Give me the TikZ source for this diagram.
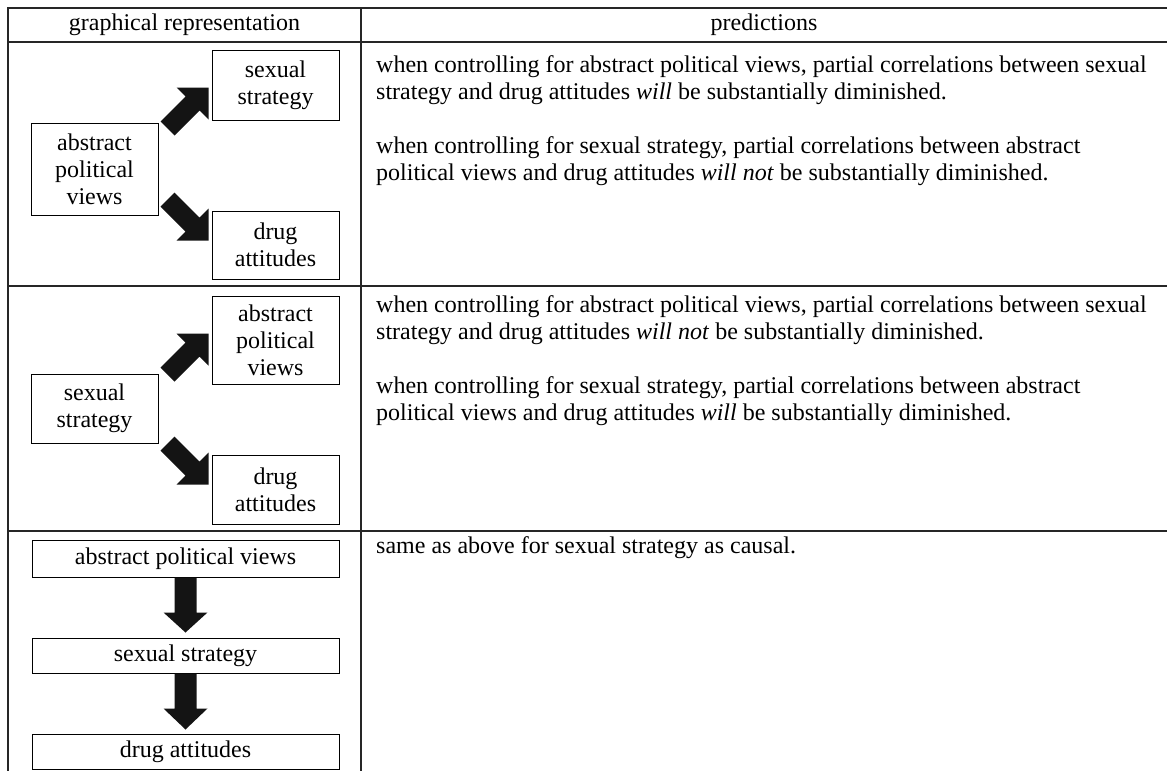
\documentclass[tikz,border=0pt]{standalone}
\usepackage{fontspec}
\setmainfont{Liberation Serif}
\usetikzlibrary{calc}
\tikzset{
  tline/.style={draw=black!85, line width=1.3pt},
  topline/.style={draw=black!85, line width=2.4pt},
  vbox/.style={draw=black, line width=1pt, align=center, inner sep=0pt,
    font=\fontsize{24}{27}\selectfont, minimum width=127pt},
  wbox/.style={vbox, minimum width=307pt},
  txt/.style={anchor=base west, inner sep=0pt, font=\fontsize{24}{27}\selectfont},
  hdr/.style={inner sep=0pt, font=\fontsize{24}{27}\selectfont},
  blk/.style={fill=black!92},
}
\begin{document}
\begin{tikzpicture}[x=1pt, y=-1pt]
\useasboundingbox (0,0) rectangle (1167,771);
% table lines
\draw[topline] (8,8) -- (1167,8);
\draw[tline] (8,42) -- (1167,42);
\draw[tline] (8,286) -- (1167,286);
\draw[tline] (8,531) -- (1167,531);
\draw[tline] (8,7) -- (8,771);
\draw[tline] (361,7) -- (361,771);
% headers
\node[hdr] (h1) at (184.5,25) {graphical representation};
\node[hdr] (h2) at (764,25) {predictions};

% row 1
\node[vbox, minimum height=70pt] (ss1) at (275.5,85) {sexual\\strategy};
\node[vbox, minimum height=92pt] (ap1) at (94.5,169) {abstract\\political\\views};
\node[vbox, minimum height=68pt] (da1) at (275.5,245) {drug\\attitudes};
\fill[blk, shift={($(ss1.north west)+(-3,38)$)}]
  (-48,34) -- (-23,9) -- (-32,0) -- (0,0) -- (0,32) -- (-9,23) -- (-34,48) -- cycle;
\fill[blk, shift={($(da1.north west)+(-3,30)$)}]
  (-48,-34) -- (-23,-9) -- (-32,0) -- (0,0) -- (0,-32) -- (-9,-23) -- (-34,-48) -- cycle;

% row 2
\node[vbox, minimum height=88pt] (ap2) at (275.5,340) {abstract\\political\\views};
\node[vbox, minimum height=69pt] (ss2) at (94.5,408.5) {sexual\\strategy};
\node[vbox, minimum height=69pt] (da2) at (275.5,489.5) {drug\\attitudes};
\fill[blk, shift={($(ap2.north west)+(-3,38)$)}]
  (-48,34) -- (-23,9) -- (-32,0) -- (0,0) -- (0,32) -- (-9,23) -- (-34,48) -- cycle;
\fill[blk, shift={($(da2.north west)+(-3,30)$)}]
  (-48,-34) -- (-23,-9) -- (-32,0) -- (0,0) -- (0,-32) -- (-9,-23) -- (-34,-48) -- cycle;

% row 3
\node[wbox, minimum height=37pt] (ap3) at (185.5,558.5) {abstract political views};
\node[wbox, minimum height=35pt] (ss3) at (185.5,655.5) {sexual strategy};
\node[wbox, minimum height=35pt] (da3) at (185.5,751.5) {drug attitudes};
\fill[blk] ($(ap3.south)+(-11,0)$) -- ($(ap3.south)+(11,0)$) -- ($(ss3.north)+(11,-25)$)
  -- ($(ss3.north)+(22,-25)$) -- ($(ss3.north)+(0,-5)$) -- ($(ss3.north)+(-22,-25)$)
  -- ($(ss3.north)+(-11,-25)$) -- cycle;
\fill[blk] ($(ss3.south)+(-11,0)$) -- ($(ss3.south)+(11,0)$) -- ($(da3.north)+(11,-25)$)
  -- ($(da3.north)+(22,-25)$) -- ($(da3.north)+(0,-4)$) -- ($(da3.north)+(-22,-25)$)
  -- ($(da3.north)+(-11,-25)$) -- cycle;

% predictions text
\node[txt] (p11) at (376,72) {when controlling for abstract political views, partial correlations between sexual};
\node[txt] (p12) at (376,99) {strategy and drug attitudes \textit{will} be substantially diminished.};
\node[txt] (p13) at (376,153) {when controlling for sexual strategy, partial correlations between abstract};
\node[txt] (p14) at (376,180) {political views and drug attitudes \textit{will not} be substantially diminished.};
\node[txt] (p21) at (376,312) {when controlling for abstract political views, partial correlations between sexual};
\node[txt] (p22) at (376,339) {strategy and drug attitudes \textit{will not} be substantially diminished.};
\node[txt] (p23) at (376,393) {when controlling for sexual strategy, partial correlations between abstract};
\node[txt] (p24) at (376,420) {political views and drug attitudes \textit{will} be substantially diminished.};
\node[txt] (p31) at (376,553) {same as above for sexual strategy as causal.};
\end{tikzpicture}
\end{document}
